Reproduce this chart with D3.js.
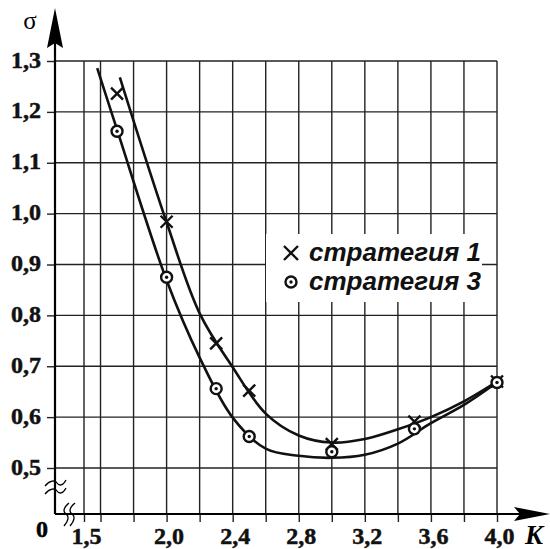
<!DOCTYPE html>
<html>
<head>
<meta charset="utf-8">
<script src="https://cdn.jsdelivr.net/npm/d3@7"></script>
<style>
  body { margin: 0; background: #fff; }
  svg { display: block; }
</style>
</head>
<body>
<div id="chart"></div>
<script>
// grid / tick values
const gridK = [1.5, 1.6, 1.8, 2.0, 2.2, 2.4, 2.6, 2.8, 3.0, 3.2, 3.4, 3.6, 3.8, 4.0];
const labelK = [1.5, 2.0, 2.4, 2.8, 3.2, 3.6, 4.0];
const gridS = [0.5, 0.6, 0.7, 0.8, 0.9, 1.0, 1.1, 1.2, 1.3];

// measured points
const pointK = [1.7, 2.0, 2.3, 2.5, 3.0, 3.5, 4.0];
const s1Points = [1.236, 0.984, 0.745, 0.652, 0.547, 0.591, 0.670];
const s3Points = [1.162, 0.875, 0.656, 0.562, 0.532, 0.577, 0.668];

// fitted curves
const curve1K = [1.717, 2.0, 2.2, 2.4, 2.6, 2.8, 3.0, 3.2, 3.4, 3.6, 3.8, 4.0];
const curve1S = [1.268, 0.983, 0.804, 0.698, 0.607, 0.564, 0.55, 0.557, 0.576, 0.60, 0.631, 0.67];
const curve3K = [1.58, 1.7, 2.0, 2.2, 2.4, 2.6, 2.8, 3.0, 3.2, 3.4, 3.6, 3.8, 4.0];
const curve3S = [1.286, 1.165, 0.869, 0.717, 0.599, 0.538, 0.524, 0.52, 0.526, 0.548, 0.588, 0.624, 0.668];

const legendItems = ['стратегия 1', 'стратегия 3'];

const W = 550, H = 549;
const axisY = 514;

const svg = d3.select('#chart').append('svg')
    .attr('width', W)
    .attr('height', H);

const x = d3.scaleLinear().domain([1.5, 4.0]).range([84, 497]);
const y = d3.scaleLinear().domain([0.5, 1.3]).range([468, 61]);
const x0 = 55;

const fmt = d => d.toFixed(1).replace('.', ',');
const labelFont = 'bold 24px "Liberation Serif", "Times New Roman", serif';

// grid
const grid = svg.append('g').attr('stroke', '#222').attr('stroke-width', 1.4);
grid.selectAll('line.v')
    .data(gridK)
    .enter().append('line')
    .attr('x1', d => x(d)).attr('x2', d => x(d))
    .attr('y1', y(1.3)).attr('y2', axisY);
grid.selectAll('line.h')
    .data(gridS)
    .enter().append('line')
    .attr('x1', x0).attr('x2', x(4.0))
    .attr('y1', d => y(d)).attr('y2', d => y(d));

// axes with ticks + labels
const xAxis = d3.axisBottom(x)
    .tickValues(gridK)
    .tickSize(8)
    .tickFormat(d => labelK.some(v => Math.abs(v - d) < 1e-9) ? fmt(d) : '');
const gx = svg.append('g')
    .attr('transform', `translate(0,${axisY})`)
    .call(xAxis);
gx.select('.domain').remove();
gx.selectAll('line').attr('stroke', '#222').attr('stroke-width', 1.4);
gx.selectAll('text')
    .attr('y', 30)
    .attr('dy', null)
    .attr('dx', 2)
    .style('font', labelFont)
    .attr('fill', '#111')
    .attr('stroke', '#111').attr('stroke-width', 0.5);

const yAxis = d3.axisLeft(y)
    .tickValues(gridS)
    .tickSize(8)
    .tickFormat(fmt);
const gy = svg.append('g')
    .attr('transform', `translate(${x0},0)`)
    .call(yAxis);
gy.select('.domain').remove();
gy.selectAll('line').attr('stroke', '#222').attr('stroke-width', 1.4);
gy.selectAll('text')
    .attr('x', -14)
    .attr('dy', '0.25em')
    .style('font', labelFont)
    .attr('fill', '#111')
    .attr('stroke', '#111').attr('stroke-width', 0.5);

// main axis lines
svg.append('line')
    .attr('x1', x0).attr('x2', 520)
    .attr('y1', axisY).attr('y2', axisY)
    .attr('stroke', '#000').attr('stroke-width', 2.2);
svg.append('line')
    .attr('x1', x0).attr('x2', x0)
    .attr('y1', axisY).attr('y2', 40)
    .attr('stroke', '#000').attr('stroke-width', 2.2);

// arrow heads
svg.append('path')
    .attr('d', `M${x0},8 L${x0 + 8},48 L${x0},43 L${x0 - 8},48 Z`)
    .attr('fill', '#000');
svg.append('path')
    .attr('d', `M550,${axisY} L514,${axisY - 7} L520,${axisY} L514,${axisY + 7} Z`)
    .attr('fill', '#000');

// axis names
svg.append('text')
    .attr('x', 30).attr('y', 29)
    .attr('text-anchor', 'middle')
    .style('font', '25px "Liberation Serif", serif')
    .text('σ');
svg.append('text')
    .attr('x', 525).attr('y', 544)
    .style('font', 'bold italic 27px "Liberation Serif", serif')
    .text('K');
svg.append('text')
    .attr('x', 42).attr('y', 537)
    .attr('text-anchor', 'middle')
    .style('font', labelFont)
    .attr('stroke', '#000').attr('stroke-width', 0.5)
    .text('0');

// break marks
const brk = svg.append('g').attr('fill', 'none').attr('stroke', '#000').attr('stroke-width', 1.3);
[483, 491].forEach(yy => {
    brk.append('path')
        .attr('d', `M45,${yy + 3} C50,${yy - 3} 55,${yy - 3} 57,${yy} S63,${yy + 3} 66,${yy - 3}`);
});
[66, 72].forEach(xx => {
    brk.append('path')
        .attr('d', `M${xx + 3},503 C${xx - 3},508 ${xx - 3},512 ${xx},514 S${xx + 3},520 ${xx - 2},526`);
});

// curves
const line = d3.line()
    .x(d => x(d[0]))
    .y(d => y(d[1]))
    .curve(d3.curveCatmullRom.alpha(0.5));

[[curve1K, curve1S], [curve3K, curve3S]].forEach(([ks, ss]) => {
    svg.append('path')
        .datum(ks.map((k, i) => [k, ss[i]]))
        .attr('d', line)
        .attr('fill', 'none')
        .attr('stroke', '#111')
        .attr('stroke-width', 2.6);
});

// markers
function cross(g, cx, cy, r) {
    g.append('path')
        .attr('d', `M${cx - r},${cy - r} L${cx + r},${cy + r} M${cx - r},${cy + r} L${cx + r},${cy - r}`)
        .attr('stroke', '#111').attr('stroke-width', 2.4).attr('fill', 'none');
}
function ring(g, cx, cy) {
    g.append('circle')
        .attr('cx', cx).attr('cy', cy).attr('r', 5.5)
        .attr('fill', '#fff').attr('stroke', '#111').attr('stroke-width', 2.4);
    g.append('circle')
        .attr('cx', cx).attr('cy', cy).attr('r', 1.7)
        .attr('fill', '#111');
}

const marks = svg.append('g');
pointK.forEach((k, i) => cross(marks, x(k), y(s1Points[i]), 6));
pointK.forEach((k, i) => ring(marks, x(k), y(s3Points[i])));

// legend
const legend = svg.append('g');
legend.append('rect')
    .attr('x', 266).attr('y', 234)
    .attr('width', 216).attr('height', 68)
    .attr('fill', '#fff');
legendItems.forEach((t, i) => {
    const cy = 253 + i * 29;
    if (i === 0) cross(legend, 291, cy, 7);
    else ring(legend, 291, cy);
    legend.append('text')
        .attr('x', 309).attr('y', cy + 8)
        .style('font', 'bold italic 26px "Liberation Sans", Arial, sans-serif')
        .attr('fill', '#111')
        .text(t);
});
</script>
</body>
</html>
